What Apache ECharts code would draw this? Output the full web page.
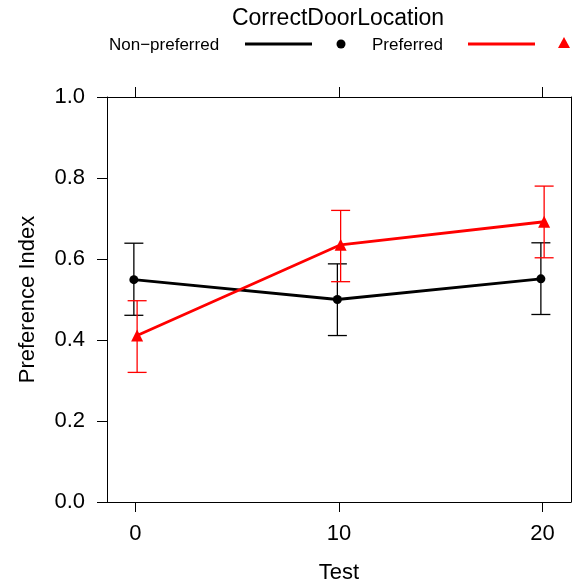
<!DOCTYPE html>
<html>
<head>
<meta charset="utf-8">
<script src="https://cdn.jsdelivr.net/npm/echarts@6/dist/echarts.min.js"></script>
<style>
    html, body { margin: 0; padding: 0; background: #fff; }
    #chart { width: 572px; height: 583px; }
</style>
</head>
<body>
<div id="chart"></div>
<script>
// data
const tests = [0, 10, 20]
const groupNames = ['Non\u2212preferred', 'Preferred']
const nonPrefMean = [0.549, 0.500, 0.551]
const nonPrefLow = [0.461, 0.411, 0.463]
const nonPrefHigh = [0.639, 0.588, 0.640]
const prefMean = [0.411, 0.635, 0.692]
const prefLow = [0.320, 0.544, 0.603]
const prefHigh = [0.497, 0.720, 0.780]

const font = 'Liberation Sans, Arial, sans-serif'
const colors = ['#000000', '#ff0000']
const dodge = [-0.08, 0.08] // small horizontal offset between groups

const points = (means, d) => tests.map((t, i) => [t + d, means[i]])
const bars = (lo, hi, d) => tests.map((t, i) => [t + d, lo[i], hi[i]])

// error bar with caps
function errorBar (color) {
    return function (params, api) {
        const x = api.value(0)
        const lo = api.coord([x, api.value(1)])
        const hi = api.coord([x, api.value(2)])
        const w = 9.5
        const style = { stroke: color, lineWidth: 1.3 }
        return {
            type: 'group',
            children: [
                { type: 'line', shape: { x1: lo[0], y1: lo[1], x2: hi[0], y2: hi[1] }, style: style },
                { type: 'line', shape: { x1: lo[0] - w, y1: lo[1], x2: lo[0] + w, y2: lo[1] }, style: style },
                { type: 'line', shape: { x1: hi[0] - w, y1: hi[1], x2: hi[0] + w, y2: hi[1] }, style: style }
            ]
        }
    }
}

const axisLine = { show: true, onZero: false, lineStyle: { color: '#000', width: 1 } }

const chart = echarts.init(document.getElementById('chart'))
chart.setOption({
    animation: false,
    textStyle: { fontFamily: font },
    grid: { left: 107, right: 1, top: 97, bottom: 81, outerBoundsMode: 'none', containLabel: false },
    xAxis: [
        {
            type: 'value',
            position: 'bottom',
            min: -1.4,
            max: 21.4,
            name: 'Test',
            nameLocation: 'middle',
            nameGap: 60,
            nameTextStyle: { fontSize: 22, color: '#000', fontFamily: font },
            axisLine: axisLine,
            axisTick: { show: true, length: 10, customValues: tests, lineStyle: { color: '#000' } },
            axisLabel: { customValues: tests, margin: 21, fontSize: 22, color: '#000', fontFamily: font },
            splitLine: { show: false }
        },
        {
            type: 'value',
            position: 'top',
            min: -1.4,
            max: 21.4,
            axisLine: axisLine,
            axisTick: { show: true, length: 10, customValues: tests, lineStyle: { color: '#000' } },
            axisLabel: { show: false },
            splitLine: { show: false }
        }
    ],
    yAxis: [
        {
            type: 'value',
            position: 'left',
            min: 0,
            max: 1,
            interval: 0.2,
            name: 'Preference Index',
            nameLocation: 'middle',
            nameGap: 68,
            nameTextStyle: { fontSize: 22, color: '#000', fontFamily: font },
            axisLine: axisLine,
            axisTick: { show: true, length: 10, lineStyle: { color: '#000' } },
            axisLabel: {
                margin: 22, fontSize: 22, color: '#000', fontFamily: font,
                formatter: (v) => v.toFixed(1)
            },
            splitLine: { show: false }
        },
        {
            type: 'value',
            position: 'right',
            min: 0,
            max: 1,
            axisLine: axisLine,
            axisTick: { show: false },
            axisLabel: { show: false },
            splitLine: { show: false }
        }
    ],
    graphic: [
        {
            type: 'text', x: 338, y: 19,
            style: { text: 'CorrectDoorLocation', font: '23px ' + font, fill: '#000', align: 'center', verticalAlign: 'middle' }
        },
        {
            type: 'text', x: 109, y: 45,
            style: { text: groupNames[0], font: '17px ' + font, fill: '#000', verticalAlign: 'middle' }
        },
        { type: 'line', shape: { x1: 245, y1: 44, x2: 312, y2: 44 }, style: { stroke: colors[0], lineWidth: 2.8 } },
        { type: 'circle', shape: { cx: 341, cy: 44, r: 4.5 }, style: { fill: colors[0] } },
        {
            type: 'text', x: 372, y: 45,
            style: { text: groupNames[1], font: '17px ' + font, fill: '#000', verticalAlign: 'middle' }
        },
        { type: 'line', shape: { x1: 468, y1: 44, x2: 535, y2: 44 }, style: { stroke: colors[1], lineWidth: 2.8 } },
        { type: 'polygon', shape: { points: [[564, 37], [558, 48], [570, 48]] }, style: { fill: colors[1] } }
    ],
    series: [
        {
            type: 'custom',
            name: groupNames[0] + ' err',
            renderItem: errorBar(colors[0]),
            data: bars(nonPrefLow, nonPrefHigh, dodge[0]),
            encode: { x: 0, y: [1, 2] },
            z: 2
        },
        {
            type: 'custom',
            name: groupNames[1] + ' err',
            renderItem: errorBar(colors[1]),
            data: bars(prefLow, prefHigh, dodge[1]),
            encode: { x: 0, y: [1, 2] },
            z: 2
        },
        {
            type: 'line',
            name: groupNames[0],
            data: points(nonPrefMean, dodge[0]),
            symbol: 'circle',
            symbolSize: 9,
            lineStyle: { color: colors[0], width: 2.8 },
            itemStyle: { color: colors[0] },
            z: 3
        },
        {
            type: 'line',
            name: groupNames[1],
            data: points(prefMean, dodge[1]),
            symbol: 'triangle',
            symbolSize: 12,
            lineStyle: { color: colors[1], width: 2.8 },
            itemStyle: { color: colors[1] },
            z: 4
        }
    ]
})
</script>
</body>
</html>
